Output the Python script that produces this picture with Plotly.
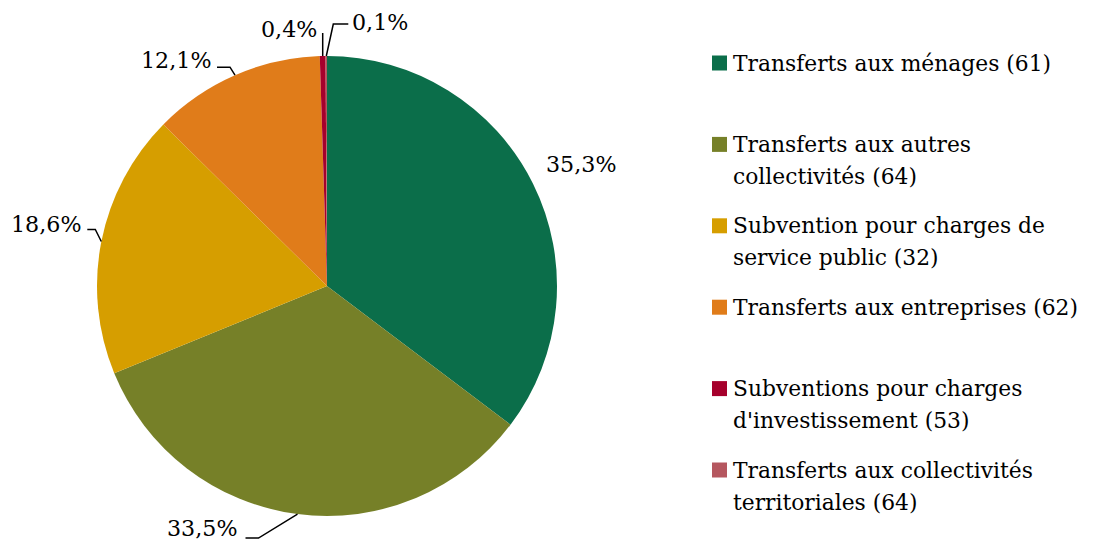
import math
import plotly.graph_objects as go

# ---- data ----
labels = [
    "Transferts aux ménages (61)",
    "Transferts aux autres\ncollectivités (64)",
    "Subvention pour charges de\nservice public (32)",
    "Transferts aux entreprises (62)",
    "Subventions pour charges\nd'investissement (53)",
    "Transferts aux collectivités\nterritoriales (64)",
]
values = [35.3, 33.5, 18.6, 12.1, 0.4, 0.1]
colors = ["#0B6E4A", "#768028", "#D69E00", "#E07C1A", "#A6002C", "#B5575F"]

# ---- layout parameters (screen pixels) ----
W, H = 1094, 540
OFF = 8  # page body margin
CX, CY, R = 327, 286, 230
FONT = "DejaVu Serif"
FS = 22.2
LFS = 21.8

# label offsets from slice edge midpoint, and leader polylines (relative to edge point)
label_offsets = [(48, -20), (-95, 14), (-55, -17), (-59, -15), (-34, -27), (54, -34)]
leaders = [
    None,
    [(-39, 24), (-52, 24)],
    [(-6, -12), (-14, -12)],
    [(-5, -8), (-18, -8)],
    [(0, -23)],
    [(7, -32), (22, -32)],
]

fig = go.Figure()
fig.add_trace(go.Pie(
    labels=[l.replace("\n", " ") for l in labels],
    values=values,
    sort=False,
    direction="clockwise",
    rotation=0,
    marker=dict(colors=colors, line=dict(width=0)),
    textinfo="none",
    hoverinfo="label+percent",
    showlegend=False,
    domain=dict(x=[(CX - R - OFF) / W, (CX + R - OFF) / W],
                y=[1 - (CY + R - OFF) / H, 1 - (CY - R - OFF) / H]),
))
# hidden pixel-space axes for annotations
fig.add_trace(go.Scatter(x=[OFF, W + OFF], y=[OFF, H + OFF], mode="markers", marker=dict(opacity=0),
                         hoverinfo="skip", showlegend=False))

annotations = []
shapes = []
total = sum(values)
cum = 0.0
for i, v in enumerate(values):
    mid = (cum + v / 2) / total * 2 * math.pi
    cum += v
    px = CX + R * math.sin(mid)
    py = CY - R * math.cos(mid)
    ox, oy = label_offsets[i]
    txt = f"{v:.1f}".replace(".", ",") + "%"
    annotations.append(dict(x=px + ox, y=py + oy, xref="x", yref="y", text=txt,
                            showarrow=False, xanchor="center", yanchor="middle",
                            font=dict(family=FONT, size=FS, color="#000000")))
    if leaders[i]:
        pts = [(px, py)] + [(px + dx, py + dy) for dx, dy in leaders[i]]
        path = "M " + " L ".join(f"{x:.1f},{y:.1f}" for x, y in pts)
        shapes.append(dict(type="path", path=path, xref="x", yref="y",
                           line=dict(color="#000000", width=1.5)))

# custom legend
LEG_X, LEG_Y0, LEG_DY, LINE_DY, SQ = 712, 63, 81.4, 32, 15
for i, lab in enumerate(labels):
    y0 = LEG_Y0 + i * LEG_DY
    shapes.append(dict(type="rect", xref="x", yref="y", x0=LEG_X, x1=LEG_X + SQ,
                       y0=y0 - SQ / 2, y1=y0 + SQ / 2, fillcolor=colors[i], line=dict(width=0)))
    for j, line in enumerate(lab.split("\n")):
        annotations.append(dict(x=LEG_X + SQ + 4, y=y0 + j * LINE_DY, xref="x", yref="y",
                                text=line, showarrow=False, xanchor="left", yanchor="middle",
                                font=dict(family=FONT, size=LFS, color="#000000")))

fig.update_layout(
    width=W, height=H,
    margin=dict(l=0, r=0, t=0, b=0),
    paper_bgcolor="white", plot_bgcolor="white",
    xaxis=dict(range=[OFF, W + OFF], visible=False, fixedrange=True),
    yaxis=dict(range=[H + OFF, OFF], visible=False, fixedrange=True),
    annotations=annotations,
    shapes=shapes,
    showlegend=False,
)
fig.write_html("out.html")
